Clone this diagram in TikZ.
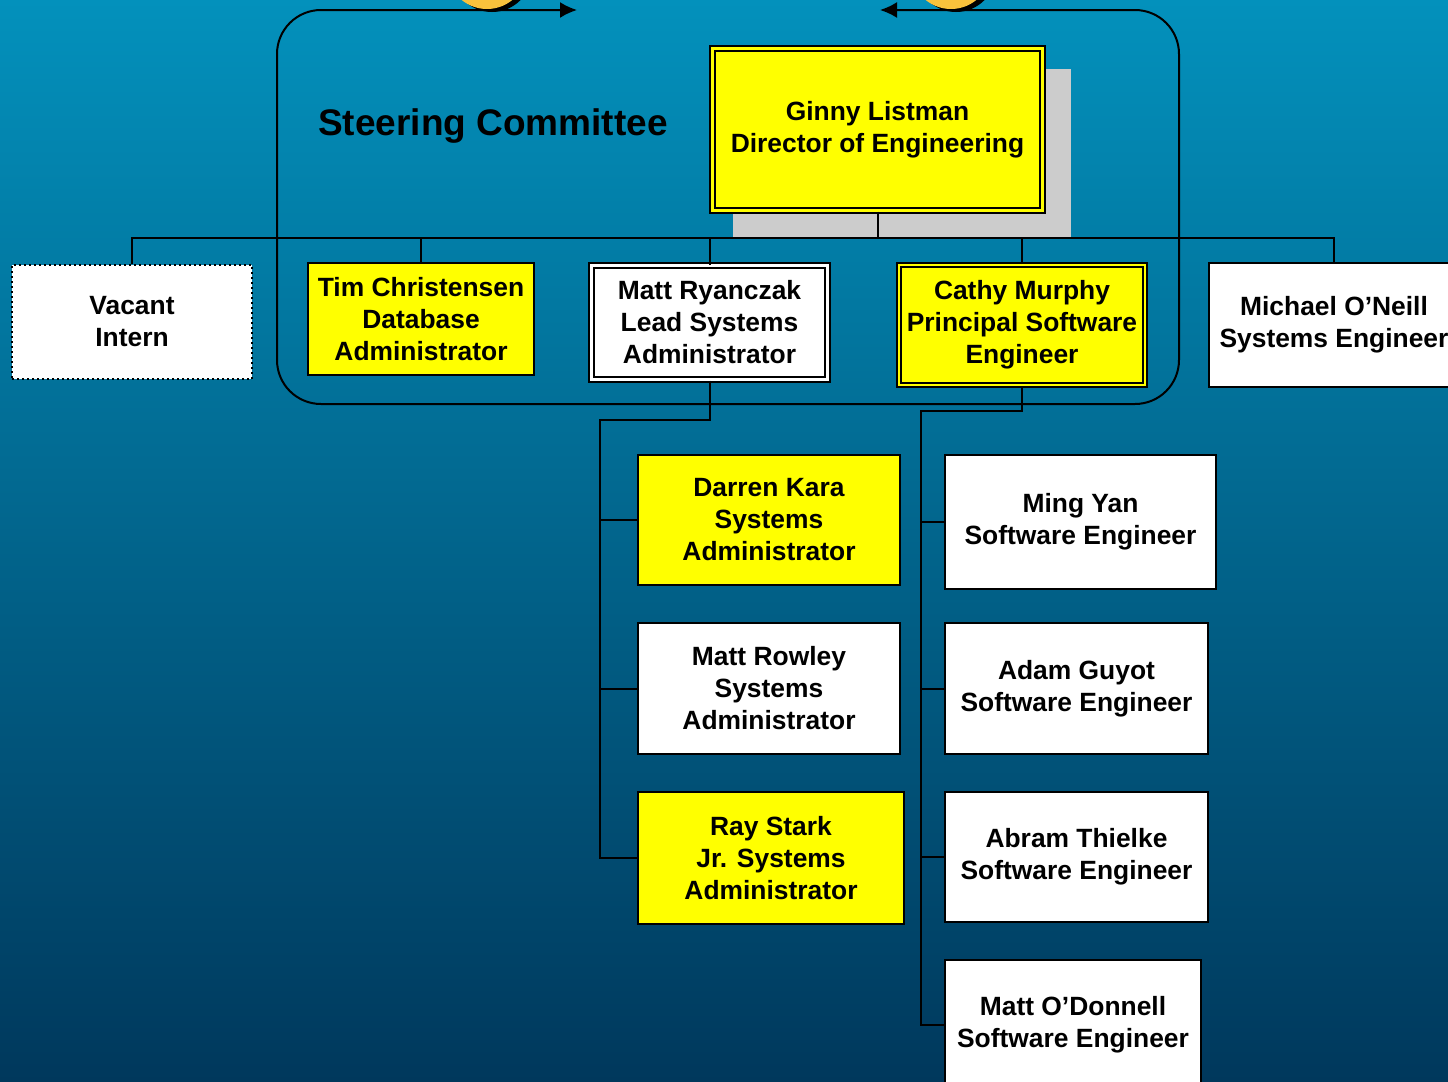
\documentclass[tikz,border=0pt]{standalone}
\usepackage{fontspec}
\setmainfont{Liberation Sans}
\usepackage{tikz}
\usetikzlibrary{arrows.meta, positioning, shapes}

\definecolor{bgtop}{RGB}{3,145,188}
\definecolor{bgbottom}{RGB}{0,56,92}
\definecolor{boxyellow}{RGB}{255,255,0}
\definecolor{sungold}{RGB}{249,194,60}
\definecolor{shadowgray}{RGB}{204,204,204}

\tikzset{
	person/.style={draw, line width=1pt, align=center, inner sep=0pt,
		font=\fontsize{13.2}{16}\selectfont\bfseries},
	yellowbox/.style={person, fill=boxyellow},
	whitebox/.style={person, fill=white},
	lead/.style={double=#1, double distance=1.25pt, line width=1pt},
	link/.style={line width=1pt},
	frametip/.tip={Latex[length=8.5pt, width=8pt]},
}

\begin{document}
\begin{tikzpicture}[x=0.5pt, y=-0.5pt]

\useasboundingbox (0,0) rectangle (1448,1082);
\shade [top color=bgtop, bottom color=bgbottom] (0,0) rectangle (1448,1082);

% the two suns cut off at the top
\foreach \x in {487, 951} {
	\fill [black] (\x+5,-28) circle [radius=40];
	\fill [sungold] (\x,-31) circle [radius=40];
}

% committee frame
\draw [link, rounded corners=22pt, {frametip}-{frametip}] (577,10) -- (277,10) -- (277,404) -- (1179,404) -- (1179,10) -- (880,10);

\node [anchor=base, font=\fontsize{18.5}{22}\selectfont\bfseries] (title) at (493,135) {Steering Committee};

\fill [shadowgray] (733,69) rectangle (1071,238);

\node [yellowbox, lead=boxyellow, minimum width=165pt, minimum height=81pt] (dir) at (877.5,129.5) {
	Ginny Listman \\
	Director of Engineering
};

\node [whitebox, dash pattern=on 1pt off 1.5pt, line width=0.6pt, minimum width=120pt, minimum height=57pt] (intern) at (132,322) {
	Vacant \\
	Intern
};

\node [yellowbox, minimum width=113pt, minimum height=56pt] (tim) at (421,319) {
	Tim Christensen \\
	Database \\
	Administrator
};

\node [whitebox, lead=white, minimum width=118pt, minimum height=57pt] (ryanczak) at (709.5,322.5) {
	Matt Ryanczak \\
	Lead Systems \\
	Administrator
};

\node [yellowbox, lead=boxyellow, minimum width=123pt, minimum height=60pt] (murphy) at (1022,325) {
	Cathy Murphy \\
	Principal Software \\
	Engineer
};

\node [whitebox, minimum width=125pt, minimum height=62pt] (oneill) at (1334,325) {
	Michael O’Neill \\
	Systems Engineer
};

% systems administrators
\node [yellowbox, minimum width=131pt, minimum height=65pt] (kara) at (769,520) {
	Darren Kara \\
	Systems \\
	Administrator
};

\node [whitebox, minimum width=131pt, minimum height=65.5pt, below right=18pt and 0pt of kara.south west] (rowley) {
	Matt Rowley \\
	Systems \\
	Administrator
};

\node [yellowbox, minimum width=133pt, minimum height=66pt, below right=18pt and 0pt of rowley.south west] (stark) {
	Ray Stark \\
	Jr. Systems \\
	Administrator
};

% software engineers
\node [whitebox, minimum width=135.5pt, minimum height=67pt] (mingyan) at (1080.5,522) {
	Ming Yan \\
	Software Engineer
};

\node [whitebox, minimum width=131.5pt, minimum height=65.5pt, below right=16pt and 0pt of mingyan.south west] (guyot) {
	Adam Guyot \\
	Software Engineer
};

\node [whitebox, minimum width=131.5pt, minimum height=65pt, below right=18pt and 0pt of guyot.south west] (thielke) {
	Abram Thielke \\
	Software Engineer
};

\node [whitebox, minimum width=128pt, minimum height=65pt, below right=18pt and 0pt of thielke.south west] (odonnell) {
	Matt O’Donnell \\
	Software Engineer
};

% reporting lines
\coordinate (bus) at (0,238);
\draw [link] (intern.north) |- (oneill.north |- bus) -- (oneill.north);
\foreach \n in {tim, ryanczak, murphy}
	\draw [link] (\n.north) -- (\n.north |- bus);
\draw [link] (dir.south) -- (dir.south |- bus);

\coordinate (sabus) at (600,420);
\draw [link] (ryanczak.south) |- (sabus) |- (stark.west);
\foreach \n in {kara, rowley}
	\draw [link] (\n.west) -- (\n.west -| sabus);

\coordinate (swbus) at (921,411);
\draw [link] (murphy.south) |- (swbus) |- (odonnell.west);
\foreach \n in {mingyan, guyot, thielke}
	\draw [link] (\n.west) -- (\n.west -| swbus);

\end{tikzpicture}
\end{document}
